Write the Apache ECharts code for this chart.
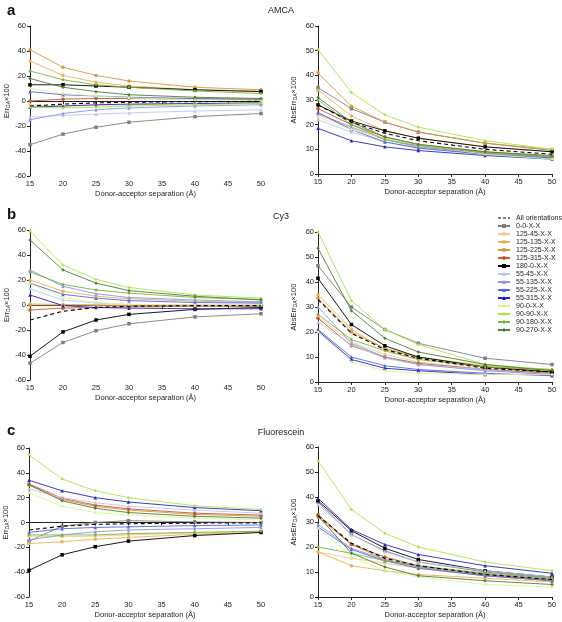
<!DOCTYPE html>
<html><head><meta charset="utf-8">
<script src="https://cdn.jsdelivr.net/npm/echarts@6/dist/echarts.min.js"></script>
<style>html,body{margin:0;padding:0;background:#fff}#c{width:562px;height:622px}</style>
</head><body><div id="c"></div>
<script>
const xValues = [15, 20, 25, 30, 40, 50];
const seriesNames = ['All orientations','0-0-X-X','125-45-X-X','125-135-X-X','125-225-X-X','125-315-X-X','180-0-X-X','55-45-X-X','55-135-X-X','55-225-X-X','55-315-X-X','90-0-X-X','90-90-X-X','90-180-X-X','90-270-X-X'];
const panelTitles = ['AMCA', 'Cy3', 'Fluorescein'];
const panelLetters = ['a', 'b', 'c'];
const errTicks = [-60, 60, 20];
const absTicks = [0, 60, 10];

const amcaErr = [
  [-4,-2.5,-1.5,-1,-0.5,-0.3],
  [-35,-26.5,-21,-17,-12.5,-10],
  [-3,-4,-3.5,-3,-2,-1.5],
  [32,20.5,15,12,9,8],
  [41,27,20.5,16,11,9],
  [0,1.5,2,2,1.5,1],
  [13,13,12,11,9,7.5],
  [-13,-11.5,-10.5,-9.5,-8,-7],
  [-15,-10,-7,-5.5,-4,-3],
  [7.5,5,4,3,2,1.5],
  [-5,-4,-3,-2.5,-2,-1.5],
  [10,6,4,2.5,1,0.5],
  [-5,-5.5,-5,-4,-3,-2],
  [24,17,13,11,8,6],
  [18,11,7.5,5,3,2]
];
const amcaAbs = [
  [28,21,16.5,13.5,10,8],
  [35,26.5,21,17,12.5,9.5],
  [24,18.5,14,11,8.5,7],
  [34,23.5,17.5,14.5,11,9],
  [41,27.5,21,17,12.5,10],
  [26.5,20,15,12,9,7],
  [28,21.5,17.5,14.5,11,9],
  [22,17,13,10.5,8,6.5],
  [24.5,19,14,11,8.5,6.5],
  [25,18,13,10.5,8,6.5],
  [18.5,13.5,11,9.5,7.5,6],
  [23,18,14.5,12,8,6],
  [50.5,33,24,19,13.5,10],
  [30,20,14,11.5,8.5,7],
  [31,21,15,12,9,7.5]
];
const cy3Err = [
  [-12,-5,-2,-1,-0.5,-0.5],
  [-46.5,-30,-20.5,-15,-9.5,-7],
  [1,0.5,0,0,0,0],
  [20,11,7,5,3,2],
  [0,0,0,-0.5,-0.5,-0.5],
  [-4,-2.5,-2,-1.5,-1,-1],
  [-41,-21.5,-12,-7.5,-3.5,-2],
  [13,4,1.5,0.5,0,0],
  [28,15,9,6,4,2.5],
  [17.5,8.5,5.5,3.5,2,1.5],
  [8,-0.5,-2,-2.5,-3,-3],
  [17,6,2,0.5,0,0],
  [59,32,20.5,14,8,5.5],
  [26.5,16.5,12,9.5,6,4.5],
  [52,28,17.5,11.5,7,4]
];
const cy3Abs = [
  [33,19.5,13,9.5,5.5,4],
  [46.5,30,21,15.5,9.5,7],
  [26,16,11,8,5,3.5],
  [35,21,13,10,6.5,4.5],
  [33.5,20,13.5,10,6,4],
  [25.5,14.5,10,7.5,5,3.5],
  [41.5,23,14.5,10,6,4],
  [24,15,9.5,7,5,2.5],
  [30,15.5,10,7,4.5,3],
  [21,10,6.5,5,3.5,2.5],
  [20.5,9,5.5,4.5,3,3],
  [20,8,4.5,3.5,3,3],
  [60,32.5,21,15,7,5],
  [27,17,12.5,9,6,5],
  [53.5,28.5,17.5,12,7,4.5]
];
const fluoErr = [
  [-6,-3,-1.5,-1,-0.5,-0.3],
  [-15,-3,0,1.5,0.5,0],
  [-11,-11.5,-11,-10,-8.5,-7],
  [-17,-15.5,-13.5,-12,-9.5,-8],
  [30,18.5,13,10,6.5,5],
  [31,19.5,14,11,7.5,6],
  [-38.5,-26,-19.5,-15,-10.5,-8],
  [27,20,16,13,10,7.5],
  [-14,-10,-7.5,-6,-5,-4],
  [-8,-5,-4,-3.5,-2.5,-2],
  [34,25.5,20,16.5,12,9.5],
  [24,13,8,6,3.5,2],
  [54.5,35,25.5,20,13.5,10.5],
  [-10,-10,-10,-9,-8,-7],
  [30.5,17.5,11.5,8,5,3.5]
];
const fluoAbs = [
  [32.5,21.5,15.5,12.5,9,7],
  [38,25,18.5,14,10,7.5],
  [18,15.5,13.5,11.5,8.5,6.5],
  [18,12.5,10.5,9,7.5,6],
  [32,21,15,12,8.5,6.5],
  [33,21,16,12.5,9,7],
  [38.5,26.5,19.5,15,10.5,8],
  [37,25,18,14,10.5,8],
  [29,19.5,15,12,9,7],
  [28,19,14.5,11.5,8.5,6.5],
  [39.5,27,21,17,12.5,9.5],
  [27.5,16,10.5,8,5,4],
  [54.5,35,25.5,20,14,10.5],
  [20,17.5,14.5,12.5,9.5,7.5],
  [32.5,17.5,12,8.5,6.5,5]
];

const colors = ['#000000','#7f7f7f','#f4cc8c','#eab05a','#d9963c','#c9582e','#000000','#c0c6ee','#8896e6','#5566d8','#2626b8','#d8f59a','#a6e84a','#78b43c','#4f7f34'];
const symbols = ['none','rect','circle','circle','circle','circle','rect','triangle','triangle','triangle','triangle','diamond','diamond','diamond','diamond'];

const panels = [
  {data: amcaErr, abs: false, left: 30, top: 26, width: 231, height: 150},
  {data: amcaAbs, abs: true, left: 318, top: 26, width: 234, height: 148},
  {data: cy3Err, abs: false, left: 30, top: 230, width: 231, height: 150},
  {data: cy3Abs, abs: true, left: 318, top: 232, width: 234, height: 150},
  {data: fluoErr, abs: false, left: 29, top: 448, width: 232, height: 149},
  {data: fluoAbs, abs: true, left: 318, top: 447, width: 234, height: 150}
];

const FONT = 'Liberation Sans, Arial, sans-serif';
const grids = [], xAxes = [], yAxes = [], series = [];
panels.forEach((p, i) => {
  grids.push({left: p.left, top: p.top, width: p.width, height: p.height});
  const axLine = {show: true, lineStyle: {color: '#222', width: 1}};
  xAxes.push({
    type: 'value', gridIndex: i, min: 15, max: 50, interval: 5,
    axisLine: axLine, axisTick: {show: true, length: 3, lineStyle: {color: '#222'}},
    axisLabel: {fontSize: 7.5, color: '#222', margin: 4, fontFamily: FONT},
    splitLine: {show: false},
    name: 'Donor-acceptor separation (Å)', nameLocation: 'middle', nameGap: 14,
    nameTextStyle: {fontSize: 7.5, color: '#222', fontFamily: FONT}
  });
  const t = p.abs ? absTicks : errTicks;
  yAxes.push({
    type: 'value', gridIndex: i, min: t[0], max: t[1], interval: t[2],
    axisLine: axLine, axisTick: {show: true, length: 3, lineStyle: {color: '#222'}},
    axisLabel: {fontSize: 7.5, color: '#222', margin: 4, fontFamily: FONT},
    splitLine: {show: false},
    name: p.abs ? 'AbsErr{sub|DA}×100' : 'Err{sub|DA}×100',
    nameLocation: 'middle', nameGap: p.abs ? 20 : 18, nameRotate: 90,
    nameTextStyle: {fontSize: 7.5, color: '#222', fontFamily: FONT,
      rich: {sub: {fontSize: 5, color: '#222', verticalAlign: 'bottom', padding: [3, 0, 0, 0], fontFamily: FONT}}}
  });
  const order = [];
  for (let k = 1; k < seriesNames.length; k++) order.push(k);
  order.push(0);
  order.forEach(k => {
    series.push({
      type: 'line', name: seriesNames[k], xAxisIndex: i, yAxisIndex: i,
      data: xValues.map((x, j) => [x, p.data[k][j]]),
      symbol: symbols[k], symbolSize: 3.5,
      showSymbol: symbols[k] !== 'none',
      lineStyle: {color: colors[k], width: k === 0 ? 1.1 : 0.9, type: k === 0 ? [4, 3] : 'solid'},
      itemStyle: {color: colors[k]},
      emphasis: {disabled: true}, animation: false, z: k === 0 ? 5 : 2
    });
  });
});

const graphics = [];
const letterTops = [3, 207, 423];
const titleTops = [6, 212, 428];
panelLetters.forEach((l, i) => {
  graphics.push({type: 'text', left: 7, top: letterTops[i], style: {text: l, font: 'bold 15px ' + FONT, fill: '#111'}});
  graphics.push({type: 'text', left: 'center', top: titleTops[i], style: {text: panelTitles[i], font: '9px ' + FONT, fill: '#222'}});
});

const legendData = seriesNames.map((n, k) => k === 0
  ? {name: n, itemStyle: {opacity: 0}, lineStyle: {type: [3, 2], color: '#000', width: 1.1}}
  : {name: n});

const chart = echarts.init(document.getElementById('c'), null, {renderer: 'canvas'});
chart.setOption({
  animation: false,
  backgroundColor: '#fff',
  grid: grids, xAxis: xAxes, yAxis: yAxes, series: series,
  graphic: graphics,
  legend: {
    data: legendData, orient: 'vertical', left: 497, top: 214, padding: 0,
    itemWidth: 12, itemHeight: 5, itemGap: 0,
    textStyle: {fontSize: 7, color: '#222', fontFamily: FONT, lineHeight: 8, padding: [0, 0, 0, 1]},
    selectedMode: false
  }
});
</script></body></html>
